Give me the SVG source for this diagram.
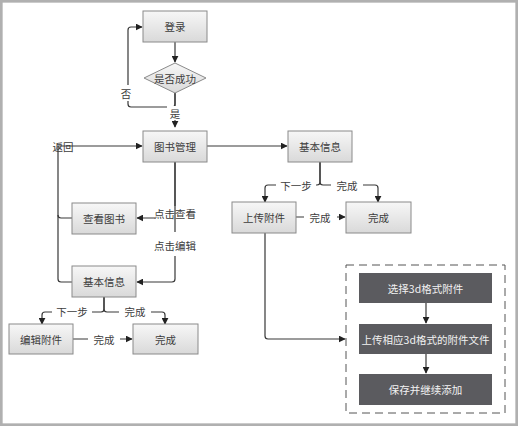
<svg xmlns="http://www.w3.org/2000/svg" width="518" height="426" viewBox="0 0 518 426">
<style>
text{font-family:"Noto Sans CJK SC","Liberation Sans",sans-serif;font-size:10.5px;fill:#3c3c3c;text-anchor:middle;dominant-baseline:central}
.box{fill:url(#g);stroke:#8a8a8a;stroke-width:1}
.dark{fill:#5b5b5f;stroke:none}
.wt{fill:#f2f2f2}
.ln{fill:none;stroke:#383838;stroke-width:1.2}
.lb{fill:#fff;stroke:none}
</style>
<defs>
<linearGradient id="g" x1="0" y1="0" x2="0" y2="1">
<stop offset="0" stop-color="#f7f7f7"/>
<stop offset="1" stop-color="#d9d9d9"/>
</linearGradient>
<marker id="a" viewBox="0 0 10 10" refX="9" refY="5" markerWidth="7" markerHeight="7" orient="auto" markerUnits="userSpaceOnUse">
<path d="M0,0 L10,5 L0,10 z" fill="#222"/>
</marker>
</defs>
<rect x="1.3" y="1.3" width="515.4" height="423.4" fill="#fff" stroke="#b0b0b0" stroke-width="2.7"/>

<g id="connectors">
<path class="ln" d="M175,42 L175,62" marker-end="url(#a)"/>
<path class="ln" d="M175,93 L175,104 Q175,107 172,107 L131,107 Q128,107 128,104 L128,30 Q128,27 131,27 L142,27" marker-end="url(#a)"/>
<rect class="lb" x="118" y="85" width="16" height="16"/><text x="126" y="93">否</text>
<path class="ln" d="M175,93 L175,127" marker-end="url(#a)"/>
<rect class="lb" x="167" y="106" width="16" height="14"/><text x="175" y="113">是</text>
<path class="ln" d="M207,146 L287,146" marker-end="url(#a)"/>
<path class="ln" d="M72,282 L61,282 Q58,282 58,279 L58,146 L142,146" marker-end="url(#a)"/>
<path class="ln" d="M72,218 L61,218 Q58,218 58,215"/>
<text x="63" y="146">返回</text>
<path class="ln" d="M175,162 L175,218 L137,218" marker-end="url(#a)"/>
<rect class="lb" x="155" y="206" width="40" height="15"/><text x="175" y="213">点击查看</text>
<path class="ln" d="M175,162 L175,279 Q175,282 172,282 L137,282" marker-end="url(#a)"/>
<rect class="lb" x="155" y="232" width="40" height="24"/><text x="175" y="245">点击编辑</text>
<path class="ln" d="M104,297 L104,309 Q104,312 101,312 L45,312 Q42,312 42,315 L42,324" marker-end="url(#a)"/>
<path class="ln" d="M104,297 L104,309 Q104,312 107,312 L162,312 Q165,312 165,315 L165,324" marker-end="url(#a)"/>
<rect class="lb" x="52" y="304" width="40" height="15"/><text x="72" y="311">下一步</text>
<rect class="lb" x="119" y="304" width="32" height="15"/><text x="135" y="311">完成</text>
<path class="ln" d="M73,339 L132,339" marker-end="url(#a)"/>
<rect class="lb" x="88" y="332" width="32" height="15"/><text x="104" y="339">完成</text>
<path class="ln" d="M320,162 L320,182 Q320,185 317,185 L268,185 Q265,185 265,188 L265,202" marker-end="url(#a)"/>
<path class="ln" d="M320,162 L320,182 Q320,185 323,185 L375,185 Q378,185 378,188 L378,202" marker-end="url(#a)"/>
<rect class="lb" x="276" y="178" width="40" height="15"/><text x="296" y="185">下一步</text>
<rect class="lb" x="331" y="178" width="32" height="15"/><text x="347" y="185">完成</text>
<path class="ln" d="M296,217 L345,217" marker-end="url(#a)"/>
<rect class="lb" x="304" y="210" width="33" height="15"/><text x="320" y="217">完成</text>
<path class="ln" d="M265,233 L265,336 Q265,339 268,339 L345,339" marker-end="url(#a)"/>
<path class="ln" d="M426,303 L426,323" marker-end="url(#a)"/>
<path class="ln" d="M426,354 L426,373" marker-end="url(#a)"/>
</g>

<g id="login"><rect class="box" x="143" y="11" width="64" height="31"/><text x="175" y="26.5">登录</text></g>
<g id="success"><polygon class="box" points="175,63 206,78 175,93 144,78"/><text x="175" y="78">是否成功</text></g>
<g id="bookmgr"><rect class="box" x="143" y="131" width="64" height="31"/><text x="175" y="146.5">图书管理</text></g>
<g id="viewbook"><rect class="box" x="72" y="203" width="64" height="31"/><text x="104" y="218.5">查看图书</text></g>
<g id="info-left"><rect class="box" x="72" y="266" width="64" height="31"/><text x="104" y="281.5">基本信息</text></g>
<g id="edit-attach"><rect class="box" x="9" y="324" width="64" height="30"/><text x="41" y="339">编辑附件</text></g>
<g id="done-left"><rect class="box" x="133" y="324" width="65" height="30"/><text x="165.5" y="339">完成</text></g>
<g id="info-right"><rect class="box" x="288" y="131" width="64" height="31"/><text x="320" y="146.5">基本信息</text></g>
<g id="upload-attach"><rect class="box" x="232" y="202" width="64" height="31"/><text x="264" y="217.5">上传附件</text></g>
<g id="done-right"><rect class="box" x="346" y="202" width="65" height="31"/><text x="378.5" y="217.5">完成</text></g>
<g id="group3d">
<rect x="346" y="265" width="159" height="148" fill="none" stroke="#555" stroke-width="1" stroke-dasharray="8,5"/>
</g>
<g id="select3d"><rect class="dark" x="359" y="273" width="133" height="30"/><text class="wt" x="425.5" y="288">选择3d格式附件</text></g>
<g id="upload3d"><rect class="dark" x="359" y="324" width="133" height="30"/><text class="wt" x="425.5" y="339">上传相应3d格式的附件文件</text></g>
<g id="save"><rect class="dark" x="359" y="374" width="133" height="31"/><text class="wt" x="425.5" y="389.5">保存并继续添加</text></g>
</svg>
